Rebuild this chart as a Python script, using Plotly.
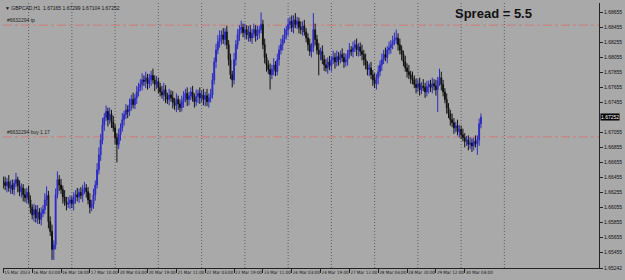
import plotly.graph_objects as go

# ---------------- data ----------------
first_open = 1.6640
closes = [
    # 15 Mar 10:00 ->
    1.6638, 1.6634, 1.6639, 1.6631, 1.6635, 1.6629, 1.6637, 1.6642, 1.6634, 1.6626, 1.6631, 1.6622, 1.6618, 1.6625, 1.6615,
    1.6605, 1.6595, 1.6602, 1.6591, 1.6599, 1.6589, 1.6597, 1.6602, 1.6615, 1.6621, 1.6586, 1.6573, 1.6549, 1.6555, 1.6622, 1.6642,
    1.6635, 1.6629, 1.6619, 1.6613, 1.6609, 1.6611, 1.6615, 1.6610, 1.6618, 1.6622, 1.6619, 1.6625, 1.6621, 1.6629, 1.6631, 1.6626,
    1.6615, 1.6605, 1.6609, 1.6622, 1.6635, 1.6655,
    1.6675, 1.6695, 1.6715, 1.6725, 1.6733, 1.6722, 1.6729, 1.6719, 1.6711, 1.6698, 1.6689, 1.6702, 1.6711, 1.6722, 1.6729, 1.6735,
    1.6733, 1.6742, 1.6749, 1.6742, 1.6751, 1.6759, 1.6765,
    1.6769, 1.6775, 1.6773, 1.6778, 1.6770, 1.6775, 1.6781, 1.6775, 1.6769, 1.6773,
    1.6765, 1.6759, 1.6755, 1.6762, 1.6753, 1.6749, 1.6755, 1.6751, 1.6745, 1.6741, 1.6749, 1.6743, 1.6738, 1.6746, 1.6751, 1.6757,
    1.6749, 1.6754, 1.6759, 1.6751, 1.6746, 1.6753, 1.6757, 1.6751, 1.6755,
    1.6749, 1.6754, 1.6746, 1.6751, 1.6755,
    1.6775, 1.6799, 1.6815, 1.6826, 1.6831,
    1.6835, 1.6829, 1.6839, 1.6822,
    1.6802, 1.6782, 1.6775,
    1.6802, 1.6822, 1.6835,
    1.6842, 1.6845, 1.6838, 1.6842,
    1.6835, 1.6839, 1.6831, 1.6837, 1.6842, 1.6834, 1.6838, 1.6842,
    1.6849,
    1.6822, 1.6805, 1.6795, 1.6789, 1.6782,
    1.6789, 1.6795, 1.6786, 1.6802,
    1.6815, 1.6822, 1.6829, 1.6835, 1.6842,
    1.6849, 1.6853, 1.6845, 1.6855, 1.6849, 1.6853, 1.6845,
    1.6842, 1.6847, 1.6839, 1.6831,
    1.6822, 1.6813, 1.6818,
    1.6842,
    1.6829, 1.6815, 1.6809, 1.6813,
    1.6802, 1.6795, 1.6791, 1.6799, 1.6794,
    1.6802, 1.6805, 1.6799, 1.6806, 1.6802, 1.6809, 1.6805, 1.6799, 1.6802,
    1.6809, 1.6815, 1.6813, 1.6818, 1.6822, 1.6815, 1.6819, 1.6813, 1.6809,
    1.6802, 1.6795, 1.6789, 1.6791, 1.6782,
    1.6775, 1.6770, 1.6778, 1.6786,
    1.6795, 1.6802, 1.6809, 1.6805, 1.6815, 1.6818, 1.6822, 1.6826, 1.6829,
    1.6831,
    1.6822, 1.6815, 1.6809, 1.6799, 1.6791, 1.6786, 1.6782, 1.6778, 1.6775,
    1.6769, 1.6765, 1.6770, 1.6762, 1.6767, 1.6765, 1.6759, 1.6766, 1.6769, 1.6765, 1.6770, 1.6767, 1.6762,
    1.6773, 1.6778,
    1.6769, 1.6759, 1.6749, 1.6738, 1.6730, 1.6722,
    1.6718, 1.6711, 1.6714, 1.6706, 1.6709, 1.6702,
    1.6698, 1.6693, 1.6695, 1.6689, 1.6691, 1.6687, 1.6693, 1.6690,
    1.6695,
    1.67165, 1.67252,
]
# wick lengths in pips (0.0001)
up_wick = [
    6, 8, 5, 9, 6, 7, 5, 9, 4, 7,  6, 5, 8, 6, 9, 6, 4, 8, 6, 9,
    5, 8, 6, 9, 12, 6, 7, 9, 6, 8, 11, 6, 8, 5, 9, 6, 8, 6, 5, 7,
    6, 9, 5, 7, 6, 8, 5, 6, 9, 6,  8, 6, 9, 10, 8, 9, 6, 8, 5, 9,
    6, 8, 5, 6, 8, 6, 9, 5, 8, 6,  8, 6, 9, 5, 8, 6, 7, 9, 6, 8,
    5, 8, 6, 9, 6, 7, 5, 6, 8, 9,  6, 5, 8, 6, 9, 6, 8, 5, 6, 8,
    9, 6, 8, 5, 6, 8, 6, 9, 5, 8,  6, 8, 5, 9, 6, 8, 9, 6, 8, 9,
    10, 6, 9, 5, 8, 6, 8, 5, 9, 6, 8, 6, 9, 5, 8, 6, 8, 9, 6, 8,
    6, 9, 5, 16, 6, 8, 5, 6, 8, 6, 9, 5, 8, 6, 8, 6, 9, 5, 8, 6,
    8, 6, 9, 6, 5, 8, 6, 8, 5, 6,  8, 6, 22, 8, 6, 9, 5, 8, 6, 8,
    6, 8, 5, 9, 6, 8, 6, 5, 8, 6,  8, 6, 9, 5, 8, 6, 8, 5, 6, 9,
    6, 8, 5, 6, 8, 6, 9, 5, 8, 6,  8, 6, 9, 5, 8, 6, 8, 9, 11, 6,
    8, 6, 5, 8, 6, 9, 5, 8, 6, 8,  6, 8, 5, 9, 6, 8, 5, 6, 8, 6,
    8, 6, 12, 8, 6, 5, 8, 6, 5, 8, 6, 5, 8, 6, 5, 8, 6, 5, 6, 8,
    6, 5, 8, 6, 7, 5,
]
dn_wick = [
    8, 6, 9, 5, 8, 6, 8, 5, 9, 6,  8, 9, 6, 8, 5, 8, 6, 9, 6, 8,
    6, 8, 5, 6, 8, 9, 6, 14, 14, 6, 5, 8, 6, 9, 6, 8, 5, 8, 6, 9,
    8, 6, 8, 5, 9, 6, 8, 6, 8, 5,  6, 8, 5, 6, 8, 6, 8, 5, 9, 6,
    8, 5, 9, 24, 6, 8, 5, 8, 6, 9, 6, 8, 5, 6, 8, 6, 5, 8, 6, 9,
    8, 6, 8, 5, 9, 6, 8, 6, 5, 8,  9, 6, 8, 5, 8, 6, 9, 8, 6, 5,
    8, 6, 9, 8, 6, 5, 8, 6, 9, 8,  6, 8, 9, 6, 8, 6, 5, 6, 8, 6,
    8, 9, 6, 8, 6, 8, 6, 10, 6, 8, 6, 8, 5, 6, 8, 6, 9, 5, 8, 6,
    8, 6, 8, 5, 6, 8, 9, 6, 20, 6, 8, 6, 5, 8, 6, 8, 5, 6, 8, 6,
    6, 8, 5, 6, 8, 6, 8, 5, 6, 8,  6, 8, 6, 8, 6, 28, 8, 6, 8, 5,
    8, 6, 8, 6, 9, 6, 8, 5, 6, 8,  6, 8, 5, 6, 8, 6, 8, 9, 6, 8,
    8, 6, 8, 9, 6, 8, 6, 8, 9, 6,  8, 6, 5, 8, 6, 8, 6, 5, 6, 8,
    6, 8, 6, 5, 8, 6, 8, 6, 5, 8,  6, 8, 6, 5, 8, 6, 9, 6, 8, 6,
    8, 30, 6, 8, 6, 5, 8, 6, 8, 6, 8, 6, 5, 8, 6, 5, 8, 6, 8, 6,
    8, 6, 5, 15, 8, 6,
]

x_tick_idx = [0, 16, 32, 48, 64, 80, 96, 112, 128, 144, 160, 176, 192, 208, 224, 240, 256]
x_tick_labels = ["15 Mar 2023", "16 Mar 02:00", "16 Mar 18:00", "17 Mar 10:00", "20 Mar 03:00",
                 "20 Mar 19:00", "21 Mar 11:00", "22 Mar 03:00", "22 Mar 19:00", "23 Mar 11:00",
                 "24 Mar 03:00", "24 Mar 19:00", "27 Mar 12:00", "28 Mar 04:00", "28 Mar 20:00",
                 "29 Mar 12:00", "30 Mar 04:00"]
day_grid_idx = [14, 38, 62, 86, 110, 134, 158, 182, 206, 230, 254, 278]

y_tick_vals = [1.65242, 1.65455, 1.65655, 1.65855, 1.66055, 1.66255, 1.66455, 1.66655, 1.66855,
               1.67055, 1.67455, 1.67655, 1.67855, 1.68055, 1.68255, 1.68455, 1.68655]
y_range = [1.65242, 1.68775]

tp_level = 1.6848
buy_level = 1.6699
last_price = 1.67252
header = "▼ GBPCAD,H1  1.67165 1.67299 1.67104 1.67252"
spread_text = "Spread = 5.5"

# ---------------- build ----------------
n = min(len(closes), len(up_wick), len(dn_wick))
closes = closes[:n]
opens = [first_open] + closes[:-1]
highs = [max(o, c) + u * 0.0001 for o, c, u in zip(opens, closes, up_wick[:n])]
lows = [min(o, c) - d * 0.0001 for o, c, d in zip(opens, closes, dn_wick[:n])]
idx = list(range(n))

BG = "#a9a9a9"
BLUE = "#2b2bc4"
FONT = "Liberation Sans"
NARROW = "Liberation Sans Narrow, DejaVu Sans Condensed, Liberation Sans"

fig = go.Figure()
fig.add_trace(go.Candlestick(
    x=idx, open=opens, high=highs, low=lows, close=closes,
    increasing=dict(line=dict(color=BLUE, width=1), fillcolor=BLUE),
    decreasing=dict(line=dict(color="#111111", width=1), fillcolor="#111111"),
    whiskerwidth=0, hoverinfo="skip",
))

shapes = []
for g in day_grid_idx:
    shapes.append(dict(type="line", xref="x", yref="paper", x0=g, x1=g, y0=0, y1=1,
                       line=dict(color="#5a6068", width=1, dash="1px,2px"), layer="below"))
for lvl in (tp_level, buy_level):
    shapes.append(dict(type="line", xref="paper", yref="y", x0=0, x1=1, y0=lvl, y1=lvl,
                       line=dict(color="#d07a7a", width=1, dash="dashdot"), layer="below"))

annotations = [
    dict(text=header, xref="paper", yref="paper", x=0.0, y=1.0, xanchor="left", yanchor="top",
         showarrow=False, font=dict(family=FONT, size=5, color="#111111")),
    dict(text="#6632294 tp", xref="paper", yref="y", x=0.003, y=tp_level, xanchor="left", yanchor="bottom",
         showarrow=False, font=dict(family=FONT, size=5, color="#222222")),
    dict(text="#6632294 buy 1.17", xref="paper", yref="y", x=0.003, y=buy_level, xanchor="left",
         yanchor="bottom", showarrow=False, font=dict(family=FONT, size=5, color="#222222")),
    dict(text="<b>" + spread_text + "</b>", xref="paper", yref="paper", x=0.823, y=0.962,
         xanchor="center", yanchor="middle", showarrow=False,
         font=dict(family=FONT, size=13, color="#111111")),
    dict(text=f"{last_price:.5f}", xref="paper", yref="y", x=1.0, y=last_price, xanchor="left",
         yanchor="middle", showarrow=False, bgcolor="#000000", borderpad=0,
         font=dict(family=FONT, size=5, color="#ffffff"), xshift=1),
]

fig.update_layout(
    width=625, height=280,
    margin=dict(l=3, r=22, t=3, b=12),
    paper_bgcolor=BG, plot_bgcolor=BG,
    showlegend=False,
    shapes=shapes, annotations=annotations,
    xaxis=dict(range=[-0.2, 330.5], rangeslider=dict(visible=False), showgrid=False, zeroline=False,
               tickmode="array", tickvals=x_tick_idx, ticktext=x_tick_labels, tickangle=0,
               ticks="outside", ticklen=4, tickcolor="#222222", tickwidth=1,
               ticklabelposition="outside right",
               tickfont=dict(family=NARROW, size=4.5, color="#111111"),
               showline=True, linecolor="#222222", linewidth=1),
    yaxis=dict(range=y_range, side="right", showgrid=False, zeroline=False,
               tickmode="array", tickvals=y_tick_vals, ticktext=[f"{v:.5f}" for v in y_tick_vals],
               ticks="outside", ticklen=3, tickcolor="#222222",
               tickfont=dict(family=FONT, size=5, color="#111111"),
               showline=True, linecolor="#222222", linewidth=1),
)

fig.write_html("out.html", config=dict(displayModeBar=False))
